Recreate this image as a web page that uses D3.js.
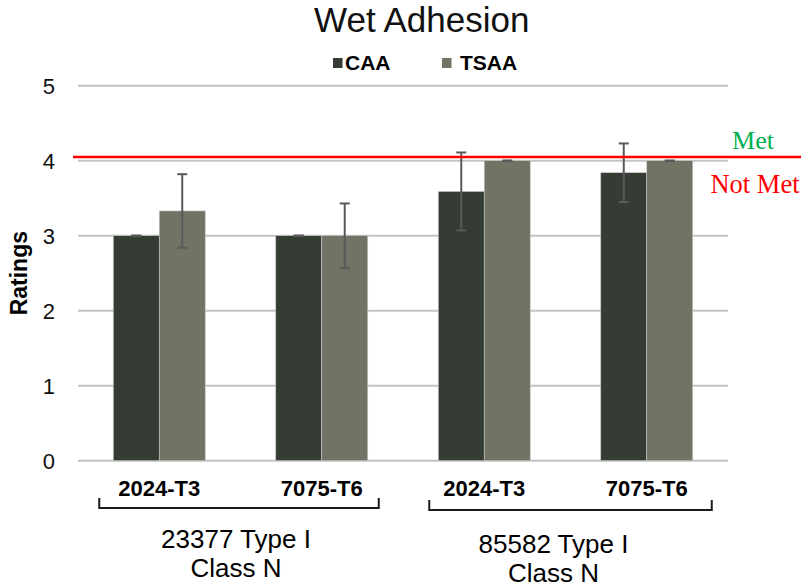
<!DOCTYPE html>
<html>
<head>
<meta charset="utf-8">
<script src="https://cdn.jsdelivr.net/npm/d3@7"></script>
<style>
  body { margin: 0; background: #fff; }
  svg { display: block; font-family: Arial, "Liberation Sans", sans-serif; }
</style>
</head>
<body>
<svg id="chart" width="804" height="588"></svg>
<script>
const categories = ['2024-T3', '7075-T6', '2024-T3', '7075-T6'];
const groupLabels = [['23377 Type I', 'Class N'], ['85582 Type I', 'Class N']];
const groupMembers = [[0, 1], [2, 3]];
const seriesNames = ['CAA', 'TSAA'];
const caaValues = [3, 3, 3.59, 3.84];
const caaErrors = [0, 0, 0.52, 0.39];
const tsaaValues = [3.33, 3, 4, 4];
const tsaaErrors = [0.49, 0.43, 0, 0];
const yTicks = [0, 1, 2, 3, 4, 5];
const threshold = 4.05;

const colors = { CAA: '#353c33', TSAA: '#717364' };

const svg = d3.select('#chart');
const plot = { left: 78, right: 728, top: 85.7, bottom: 460.7 };

const rows = categories.map((c, i) => ({
  idx: i,
  cat: c,
  series: [
    { key: 'CAA', value: caaValues[i], err: caaErrors[i] },
    { key: 'TSAA', value: tsaaValues[i], err: tsaaErrors[i] }
  ]
}));

const x0 = d3.scaleBand()
  .domain(rows.map(d => d.idx))
  .range([plot.left, plot.right])
  .paddingInner(0.434)
  .paddingOuter(0.217);
const x1 = d3.scaleBand()
  .domain(seriesNames)
  .range([0, x0.bandwidth()]);
const y = d3.scaleLinear().domain([0, 5]).range([plot.bottom, plot.top]);

// gridlines
svg.append('g')
  .selectAll('line')
  .data(yTicks)
  .enter().append('line')
  .attr('x1', plot.left)
  .attr('x2', plot.right)
  .attr('y1', d => y(d))
  .attr('y2', d => y(d))
  .attr('stroke', '#c3c3c3')
  .attr('stroke-width', 2);

// y tick labels
svg.append('g')
  .selectAll('text')
  .data(yTicks)
  .enter().append('text')
  .attr('x', 55)
  .attr('y', d => y(d))
  .attr('dy', '0.36em')
  .attr('text-anchor', 'end')
  .style('font-size', '22px')
  .style('fill', '#111')
  .text(d => d);

svg.append('text')
  .attr('transform', `translate(27,${(y(2) + y(3)) / 2}) rotate(-90)`)
  .attr('text-anchor', 'middle')
  .style('font-size', '23px')
  .style('font-weight', 'bold')
  .text('Ratings');

// bars
const groups = svg.append('g')
  .selectAll('g')
  .data(rows)
  .enter().append('g')
  .attr('transform', d => `translate(${x0(d.idx)},0)`);

groups.selectAll('rect')
  .data(d => d.series)
  .enter().append('rect')
  .attr('x', d => x1(d.key))
  .attr('y', d => y(d.value))
  .attr('width', x1.bandwidth())
  .attr('height', d => y(0) - y(d.value))
  .style('fill', d => colors[d.key])
  .style('stroke', '#c8c8c8')
  .style('stroke-width', 0.6);

// error bars
const capW = 10;
const errs = groups.selectAll('g.err')
  .data(d => d.series)
  .enter().append('g')
  .attr('class', 'err')
  .attr('transform', d => `translate(${x1(d.key) + x1.bandwidth() / 2},0)`);
errs.append('line')
  .attr('y1', d => y(d.value + d.err))
  .attr('y2', d => y(d.value - d.err))
  .attr('stroke', '#595959')
  .attr('stroke-width', 2);
errs.selectAll('line.cap')
  .data(d => [d.value + d.err, d.value - d.err])
  .enter().append('line')
  .attr('class', 'cap')
  .attr('x1', -capW / 2)
  .attr('x2', capW / 2)
  .attr('y1', d => y(d))
  .attr('y2', d => y(d))
  .attr('stroke', '#595959')
  .attr('stroke-width', 2);

// threshold line
svg.append('line')
  .attr('x1', 73)
  .attr('x2', 801)
  .attr('y1', y(threshold))
  .attr('y2', y(threshold))
  .attr('stroke', '#ff0000')
  .attr('stroke-width', 2.5);
svg.append('text')
  .attr('x', 753)
  .attr('y', y(threshold) - 7.5)
  .attr('text-anchor', 'middle')
  .style('font-family', '"Liberation Serif", "Times New Roman", serif')
  .style('font-size', '26px')
  .style('fill', '#00b050')
  .text('Met');
svg.append('text')
  .attr('x', 755)
  .attr('y', y(threshold) + 36)
  .attr('text-anchor', 'middle')
  .style('font-family', '"Liberation Serif", "Times New Roman", serif')
  .style('font-size', '26.5px')
  .style('fill', '#ff0000')
  .text('Not Met');

// category labels
svg.append('g')
  .selectAll('text')
  .data(rows)
  .enter().append('text')
  .attr('x', d => x0(d.idx) + x0.bandwidth() / 2)
  .attr('y', 495.7)
  .attr('text-anchor', 'middle')
  .style('font-size', '22px')
  .style('font-weight', 'bold')
  .text(d => d.cat);

// brackets and group labels
const bracketPad = [[60, 57], [55, 65]];
const bracketY = [508, 510];
const labelY = [548.3, 553.3];
groupMembers.forEach((m, gi) => {
  const cA = x0(m[0]) + x0.bandwidth() / 2;
  const cB = x0(m[m.length - 1]) + x0.bandwidth() / 2;
  const xa = cA - bracketPad[gi][0];
  const xb = cB + bracketPad[gi][1];
  const by = bracketY[gi];
  const lx = (xa + xb) / 2 - (gi === 0 ? 3 : 17);
  svg.append('path')
    .attr('d', d3.line()([[xa, by - 10], [xa, by], [xb, by], [xb, by - 10]]))
    .attr('fill', 'none')
    .attr('stroke', '#1a1a1a')
    .attr('stroke-width', 2);
  svg.append('text')
    .attr('x', lx)
    .attr('y', labelY[gi])
    .attr('text-anchor', 'middle')
    .style('font-size', '26px')
    .selectAll('tspan')
    .data(groupLabels[gi])
    .enter().append('tspan')
    .attr('x', lx)
    .attr('dy', (d, i) => i === 0 ? 0 : 29)
    .text(d => d);
});

// title
svg.append('text')
  .attr('x', 421.7)
  .attr('y', 32)
  .attr('text-anchor', 'middle')
  .style('font-size', '35px')
  .style('fill', '#111')
  .text('Wet Adhesion');

// legend
const legendPos = [{ key: 'CAA', x: 333 }, { key: 'TSAA', x: 442 }];
const legend = svg.append('g')
  .selectAll('g')
  .data(legendPos)
  .enter().append('g')
  .attr('transform', d => `translate(${d.x},0)`);
legend.append('rect')
  .attr('x', 0)
  .attr('y', 58)
  .attr('width', 9.5)
  .attr('height', 10)
  .style('fill', d => colors[d.key]);
legend.append('text')
  .attr('x', d => d.key === 'CAA' ? 12 : 18)
  .attr('y', 70)
  .style('font-size', '21px')
  .style('font-weight', 'bold')
  .text(d => d.key);
</script>
</body>
</html>
